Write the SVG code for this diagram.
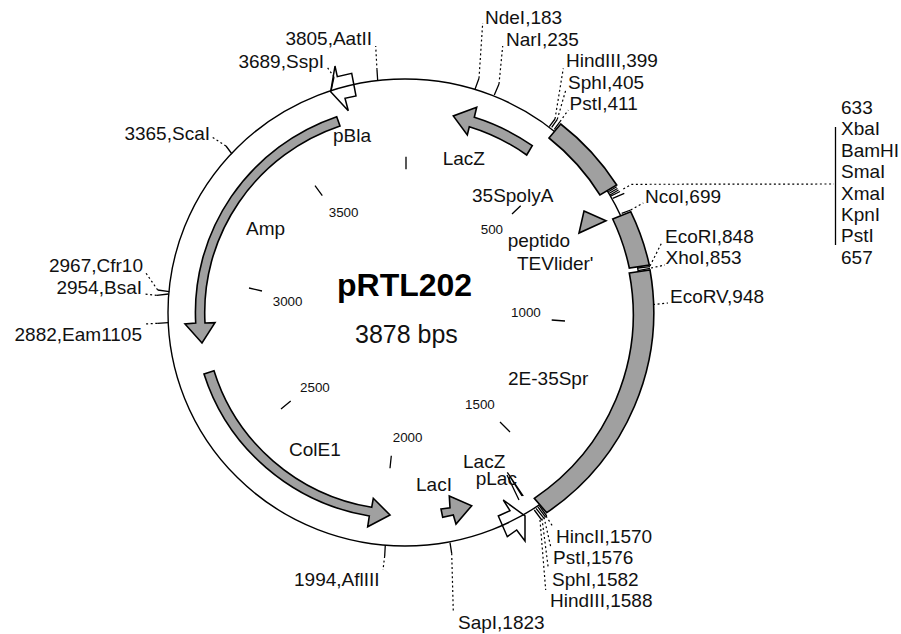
<svg xmlns="http://www.w3.org/2000/svg" width="901" height="634" viewBox="0 0 901 634">
<style>
text{font-family:"Liberation Sans",Arial,sans-serif;font-size:19px;fill:#111}
.s{font-size:13.4px}
.e{text-anchor:end}
.t{font-size:32px;font-weight:bold;fill:#000}
.b{font-size:25px}
.ring{fill:none;stroke:#000;stroke-width:1.4}
.f{fill:#a0a0a0;stroke:#000;stroke-width:1.6;stroke-linejoin:miter}
.w{fill:none;stroke:#000;stroke-width:1.5}
.tk{stroke:#000;stroke-width:1.3;fill:none}
.d{stroke:#000;stroke-width:1.2;stroke-dasharray:2 2.6;fill:none}
</style>
<rect width="901" height="634" fill="#fff"/>
<g id="ring"><ellipse class="ring" cx="405" cy="312.5" rx="237" ry="233.5"/></g>
<g id="bands">
<path class="f" d="M549 138L560.7 124A248 244 0 0 1 616.7 185L600 195A227 223 0 0 0 549 138Z"/>
<path class="f" d="M612.7 219L630.7 211.7A248 244 0 0 1 649.3 265L629.3 268A227 223 0 0 0 612.7 219Z"/>
<path class="f" d="M629.3 273L650 270A248 244 0 0 1 546.7 512.7L534.3 498.3A227 223 0 0 0 629.3 273Z"/>
</g>
<g id="Amp"><path class="f" d="M336.7 116.7L340 126A200 197 0 0 0 205 323L215 322.7L202 343L185 324L195.7 323A210 207 0 0 1 336.7 116.7Z"/></g>
<g id="ColE1"><path class="f" d="M204 374L214 370.7A200 197 0 0 0 371.7 507.3L373.3 498.3L390 515L367.7 526.7L369.3 516A210 207 0 0 1 204 374Z"/></g>
<g id="LacZ"><path class="f" d="M532.3 145.7L526.7 155A200 197 0 0 0 469.3 126.7L467.3 135L453.3 116L476.7 107.3L474.3 117.3A211 208 0 0 1 532.3 145.7Z"/></g>
<g id="LacI"><path class="f" d="M441 509L450 507.7L449.3 496L471.7 505.7L456 524L453.3 515L442.7 517.3Z"/></g>
<g id="peptido"><path class="f" d="M584 211L606 220.7L579 233Z"/></g>
<g id="pLac"><path class="w" d="M503.3 500L525 516L525 541L516.7 530L507.3 536.7L498.3 516L510 510.7Z"/></g>
<g id="pBla"><path class="w" d="M330.7 91.7L335 66L337.3 76.7L351.7 73.3L356 96L345 98.3L348.3 110.7Z"/></g>
<g id="connectors">
<path class="tk" d="M406 156.7V169.3M315 185.7L322.3 195.7M520.7 205.7L512 214M551.7 320L565 321M500 422L510 432M391.3 455.7L390 468.3M290.7 401L281 409M249 288L262 291"/>
<path class="tk" d="M507.3 472.3L523.3 496M507 475L519 500M510 476.7L522 496"/>
<path class="tk" d="M475 89.3L479 78.3M494.3 95L499 84M377.7 80.7L377 70M331 91L334 77M232 154L226 146M169.3 291.7L157.7 290M168.3 294L156.7 295.3M168.3 322.7L157.3 323.3M385.3 545L384.7 556M450 542.7L451.7 553.3"/>
<path class="tk" d="M549.3 126.7L555 119M551.7 127.3L557.3 119.3M554.3 129.3L560 121.7"/>
<path class="tk" d="M608.3 191.7L616.7 186.7M609.3 193.3L617.5 188.5M610 195L618.5 190M611 196L620 191.5M612.7 198.3L624.3 193.3M621.7 213.3L630.7 210M638 268L650 266.7M638 270.7L650 268.3"/>
<path class="tk" d="M534.3 510L541.7 520M536 508.3L544 518.3M537.7 506.7L545.7 517.3M539.3 505.7L546.7 516"/>
<path class="d" d="M479 78.3L482.7 23M499 84L502.7 46M377 70L375.7 46M334 77L327.3 67.3M226 146L212 137M157.7 290L145 271.7M156.7 295.3L145 294M157.3 323.3L145 324M384.7 556L383 570M451.7 553.3L453.3 611.7"/>
<path class="d" d="M555 119L563.3 68.3M557.3 119.3L566 89.3M560 121.7L568.3 110M623.3 189L631.7 184.3L834 184M630.7 210L643.3 203M650 266L661.7 242.7M651 268L665 265M653 304.5L668 303"/>
<path class="d" d="M546 516L553.3 527.3M544 517.3L550.7 546.7M542 518.7L548.3 568.3M540 520L545.7 590"/>
<path class="tk" d="M835.5 127V245"/>
</g>
<g id="labels">
<text x="485" y="24">NdeI,183</text>
<text x="506" y="46">NarI,235</text>
<text x="566" y="67">HindIII,399</text>
<text x="568" y="89">SphI,405</text>
<text x="569.5" y="110">PstI,411</text>
<text x="841" y="114">633</text>
<text x="841" y="135.4">XbaI</text>
<text x="841" y="156.8">BamHI</text>
<text x="841" y="178.2">SmaI</text>
<text x="841" y="199.6">XmaI</text>
<text x="841" y="221">KpnI</text>
<text x="841" y="242.4">PstI</text>
<text x="841" y="263.8">657</text>
<text x="645" y="203">NcoI,699</text>
<text x="665" y="243">EcoRI,848</text>
<text x="665.5" y="264">XhoI,853</text>
<text x="670" y="303">EcoRV,948</text>
<text x="556" y="543">HincII,1570</text>
<text x="553" y="564">PstI,1576</text>
<text x="552" y="586">SphI,1582</text>
<text x="550" y="607">HindIII,1588</text>
<text x="458" y="629">SapI,1823</text>
<text x="294" y="586">1994,AflIII</text>
<text class="e" x="372" y="45">3805,AatII</text>
<text class="e" x="324" y="68">3689,SspI</text>
<text class="e" x="210" y="140">3365,ScaI</text>
<text class="e" x="143" y="271.7">2967,Cfr10</text>
<text class="e" x="142" y="294">2954,BsaI</text>
<text class="e" x="142" y="340.7">2882,Eam1105</text>
<text x="333" y="142">pBla</text>
<text x="442.7" y="165">LacZ</text>
<text x="472" y="202">35SpolyA</text>
<text x="507.7" y="246.7">peptido</text>
<text x="517" y="270">TEVlider'</text>
<text x="246" y="235">Amp</text>
<text x="289" y="456">ColE1</text>
<text x="416" y="491">LacI</text>
<text x="463" y="467.7">LacZ</text>
<text x="475.7" y="485">pLac</text>
<text x="508" y="385">2E-35Spr</text>
<text class="s" x="328.7" y="217">3500</text>
<text class="s" x="480.7" y="234">500</text>
<text class="s" x="511" y="317">1000</text>
<text class="s" x="272.7" y="306">3000</text>
<text class="s" x="300" y="392">2500</text>
<text class="s" x="392.7" y="442">2000</text>
<text class="s" x="465" y="409">1500</text>
<text class="t" x="337" y="296">pRTL202</text>
<text class="b" x="355" y="343">3878 bps</text>
</g>
</svg>
